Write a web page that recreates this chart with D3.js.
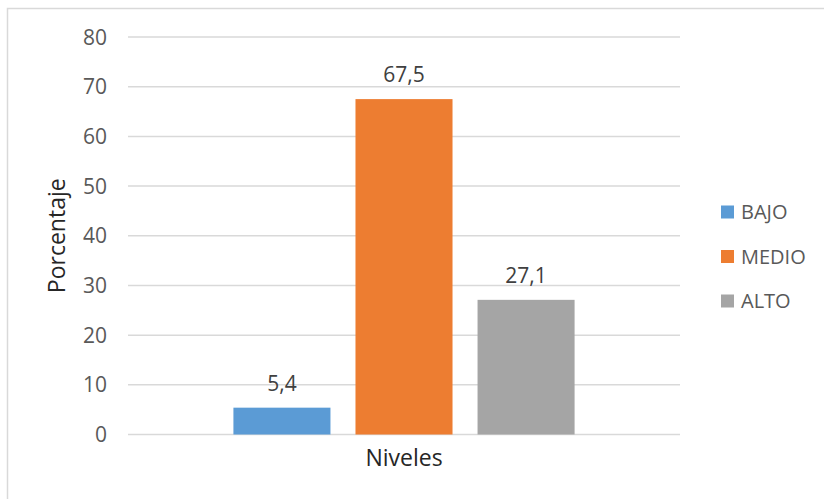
<!DOCTYPE html>
<html>
<head>
<meta charset="utf-8">
<script src="https://cdn.jsdelivr.net/npm/d3@7"></script>
<style>
    body { margin: 0; background: #fff; }
    text { font-family: "Open Sans", Lato, sans-serif; }
</style>
</head>
<body>
<div id="chart"></div>
<script>
const categories = ["Niveles"];
const series = ["BAJO", "MEDIO", "ALTO"];
const values = [5.4, 67.5, 27.1];
const colors = ["#5b9bd5", "#ed7d31", "#a5a5a5"];
const yTicks = [0, 10, 20, 30, 40, 50, 60, 70, 80];

const width = 824, height = 499;
const margin = { top: 37, right: 144, bottom: 64.5, left: 128 };
const innerW = width - margin.left - margin.right;
const innerH = height - margin.top - margin.bottom;

const svg = d3.select("#chart").append("svg")
    .attr("width", width)
    .attr("height", height);

// outer frame of the chart (right / bottom edges fall outside the picture)
svg.append("rect")
    .attr("x", 7.5).attr("y", 8.5)
    .attr("width", 830).attr("height", 500)
    .attr("fill", "none")
    .attr("stroke", "#d9d9d9")
    .attr("stroke-width", 1.5);

const g = svg.append("g")
    .attr("transform", `translate(${margin.left},${margin.top})`);

const y = d3.scaleLinear().domain([0, 80]).range([innerH, 0]);

const x0 = d3.scaleBand().domain(categories).range([0, innerW]).paddingInner(0).paddingOuter(0.309);
const x1 = d3.scaleBand().domain(series).range([0, x0.bandwidth()]).paddingInner(0.205).paddingOuter(0);

// gridlines
g.selectAll(".grid")
    .data(yTicks)
    .enter().append("line")
    .attr("class", "grid")
    .attr("x1", 0).attr("x2", innerW)
    .attr("y1", d => y(d)).attr("y2", d => y(d))
    .attr("stroke", "#d9d9d9")
    .attr("stroke-width", 1.5);

// y tick labels
g.selectAll(".ytick")
    .data(yTicks)
    .enter().append("text")
    .attr("class", "ytick")
    .attr("x", -21)
    .attr("y", d => y(d))
    .attr("dy", "0.36em")
    .attr("text-anchor", "end")
    .attr("font-size", 21)
    .attr("fill", "#595959")
    .text(d => d);

// bars
const cat = g.selectAll(".cat")
    .data(categories)
    .enter().append("g")
    .attr("transform", d => `translate(${x0(d)},0)`);

cat.selectAll("rect")
    .data(series.map((s, i) => ({ key: s, value: values[i], color: colors[i] })))
    .enter().append("rect")
    .attr("x", d => x1(d.key))
    .attr("y", d => y(d.value))
    .attr("width", x1.bandwidth())
    .attr("height", d => innerH - y(d.value))
    .attr("fill", d => d.color);

cat.selectAll(".label")
    .data(series.map((s, i) => ({ key: s, value: values[i] })))
    .enter().append("text")
    .attr("class", "label")
    .attr("x", d => x1(d.key) + x1.bandwidth() / 2)
    .attr("y", d => y(d.value) - 17)
    .attr("text-anchor", "middle")
    .attr("font-size", 21)
    .attr("fill", "#404040")
    .text(d => d3.format(".1f")(d.value).replace(".", ","));

// category label
g.selectAll(".xlab")
    .data(categories)
    .enter().append("text")
    .attr("x", d => x0(d) + x0.bandwidth() / 2)
    .attr("y", innerH + 31)
    .attr("text-anchor", "middle")
    .attr("font-size", 23)
    .attr("fill", "#262626")
    .text(d => d);

// y axis title
svg.append("text")
    .attr("transform", `translate(65,${margin.top + innerH / 2}) rotate(-90)`)
    .attr("text-anchor", "middle")
    .attr("font-size", 23)
    .attr("fill", "#262626")
    .text("Porcentaje");

// legend
const legend = svg.selectAll(".legend")
    .data(series)
    .enter().append("g")
    .attr("class", "legend")
    .attr("transform", (d, i) => `translate(721,${212 + i * 44.5})`);

legend.append("rect")
    .attr("x", 0).attr("y", -6.5)
    .attr("width", 13).attr("height", 13)
    .attr("fill", (d, i) => colors[i]);

legend.append("text")
    .attr("x", 20)
    .attr("y", 0)
    .attr("dy", "0.36em")
    .attr("font-size", 20)
    .attr("fill", "#595959")
    .text(d => d);
</script>
</body>
</html>
